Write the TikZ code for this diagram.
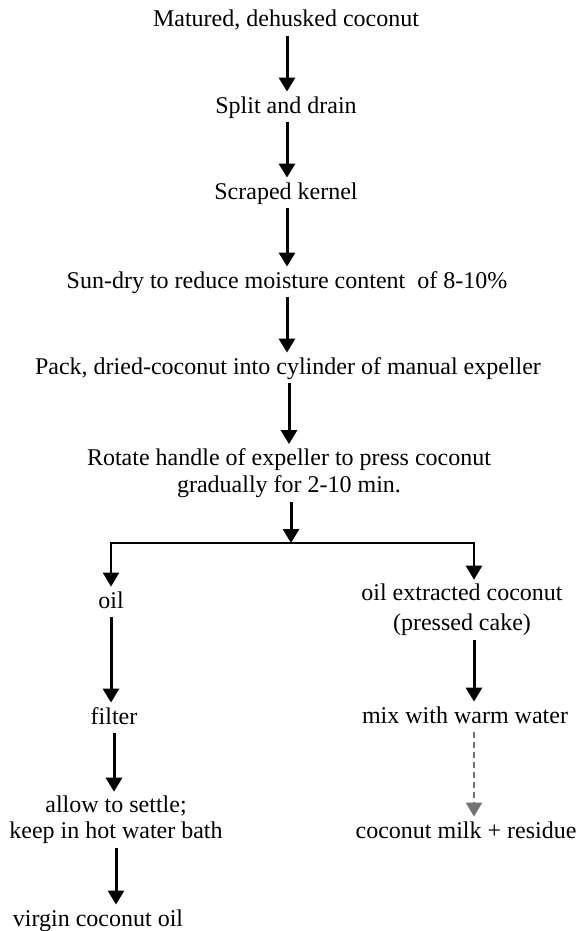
\documentclass[tikz,border=0pt]{standalone}
\usepackage{fontspec}
\setmainfont{Liberation Serif}
\usetikzlibrary{arrows.meta}

\begin{document}
\begin{tikzpicture}[x=0.5pt,y=-0.5pt,>={Triangle[width=8pt,length=7pt]}]
\tikzstyle{stage}=[inner xsep=0pt,inner ysep=2pt,text height=8.5pt,text depth=2.5pt,font=\fontsize{12}{13.5}\selectfont]
\tikzstyle{twoline}=[inner xsep=0pt,inner ysep=2pt,align=center,font=\fontsize{12}{13.5}\selectfont]
\tikzstyle{flow}=[->,line width=1.5pt]
\useasboundingbox (0,0) rectangle (582,931);
% main column
\node[stage] (coconut) at (286,21) {Matured, dehusked coconut};
\node[stage] (split) at (286,107) {Split and drain};
\node[stage] (kernel) at (286,193) {Scraped kernel};
\node[stage] (sundry) at (287,282) {Sun-dry to reduce moisture content~ of 8-10\%};
\node[stage] (pack) at (288,368) {Pack, dried-coconut into cylinder of manual expeller};
\node[twoline] (rotate) at (289,473) {Rotate handle of expeller to press coconut\\gradually for 2-10 min.};
\coordinate (fork) at (291,543);
\coordinate (rcol) at (474,543);
% oil branch
\node[stage] (oil) at (111,602) {oil};
\node[stage] (filter) at (114,718) {filter};
\node[twoline,font=\fontsize{12}{13}\selectfont] (settle) at (116,820) {allow to settle;\\keep in hot water bath};
\node[stage] (virgin) at (98,920) {virgin coconut oil};
% cake branch
\node[twoline,font=\fontsize{12}{15}\selectfont] (cake) at (462,610) {oil extracted coconut\\(pressed cake)};
\node[stage] (mix) at (465,717) {mix with warm water};
\node[stage] (milk) at (466,832) {coconut milk + residue};
\draw[flow] (coconut.south -| sundry) -- (split.north -| sundry);
\draw[flow] (split.south -| sundry) -- (kernel.north -| sundry);
\draw[flow] (kernel.south -| sundry) -- (sundry);
\draw[flow] (sundry) -- (pack.north -| sundry);
\draw[flow] (pack.south -| rotate) -- (rotate);
\draw[flow] (rotate.south -| fork) -- (fork);
\draw[flow,line width=1.2pt] (fork) -| (oil.north);
\draw[flow,line width=1.2pt] (fork) -- (rcol) -- (rcol |- cake.north);
\draw[flow] (oil.south) -- (oil.south |- filter.north);
\draw[flow] (filter.south) -- (filter.south |- settle.north);
\draw[flow] (settle.south) -- (settle.south |- virgin.north);
\draw[flow] (cake.south -| rcol) -- (mix.north -| rcol);
\draw[flow,black!55,line width=1pt,densely dashed] (mix.south -| rcol) -- (milk.north -| rcol);
\end{tikzpicture}
\end{document}
